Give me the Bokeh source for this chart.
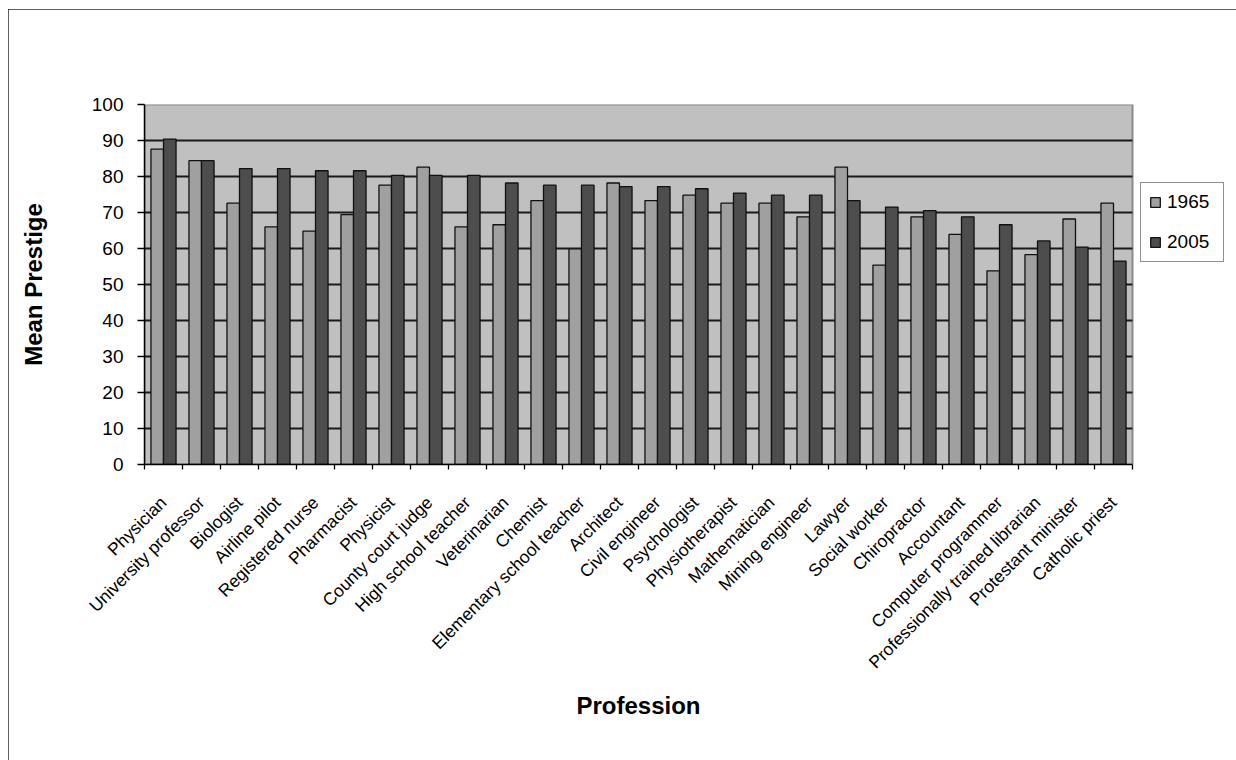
import math
from bokeh.plotting import figure
from bokeh.models import ColumnDataSource, Range1d, FixedTicker, Legend, LegendItem, Title
from bokeh.transform import dodge
from bokeh.embed import file_html
from bokeh.resources import INLINE

professions = [
    "Physician", "University professor", "Biologist", "Airline pilot",
    "Registered nurse", "Pharmacist", "Physicist", "County court judge",
    "High school teacher", "Veterinarian", "Chemist", "Elementary school teacher",
    "Architect", "Civil engineer", "Psychologist", "Physiotherapist",
    "Mathematician", "Mining engineer", "Lawyer", "Social worker",
    "Chiropractor", "Accountant", "Computer programmer",
    "Professionally trained librarian", "Protestant minister", "Catholic priest",
]
prestige_1965 = [87.6, 84.4, 72.6, 66.0, 64.8, 69.4, 77.6, 82.6, 66.0, 66.6,
                 73.3, 59.9, 78.2, 73.3, 74.8, 72.6, 72.6, 68.8, 82.6, 55.4,
                 68.8, 63.9, 53.8, 58.3, 68.2, 72.6]
prestige_2005 = [90.4, 84.4, 82.2, 82.2, 81.6, 81.6, 80.3, 80.3, 80.3, 78.2,
                 77.6, 77.6, 77.2, 77.2, 76.6, 75.4, 74.8, 74.8, 73.3, 71.5,
                 70.5, 68.8, 66.6, 62.1, 60.4, 56.5]
years = ["1965", "2005"]
y_ticks = list(range(0, 101, 10))

FONT = "Liberation Sans"
n = len(professions)
pos = list(range(1, n + 1))
src = ColumnDataSource(dict(pos=pos, p1965=prestige_1965, p2005=prestige_2005, prof=professions))

# layout geometry (pixels)
FIG_W, FIG_H = 1228, 751
B_LEFT, B_TOP, B_RIGHT, B_BOTTOM = 136, 95, 4, 296
PLOT_W = 988                      # width of the grey plot area
frame_w = FIG_W - B_LEFT - B_RIGHT
x_start = 0.5
x_end = x_start + n * frame_w / PLOT_W

p = figure(width=FIG_W, height=FIG_H, x_range=Range1d(x_start, x_end), y_range=Range1d(0, 100),
           output_backend="svg", toolbar_location=None, title=None,
           min_border_left=B_LEFT, min_border_top=B_TOP, min_border_right=B_RIGHT,
           min_border_bottom=B_BOTTOM,
           background_fill_color="white", border_fill_color="white",
           outline_line_color=None)
p.margin = (9, 0, 0, 8)
p.styles = {"outline": "2px solid #2a2a2a", "outline-offset": "-2px"}
p.xgrid.visible = False
p.ygrid.visible = False

# grey plot area
p.quad(left=[x_start], right=[n + 0.5], bottom=[y_ticks[0]], top=[y_ticks[-1]],
       fill_color="#c0c0c0", line_color="#8a8a8a", line_width=2)
# horizontal gridlines
grid_y = y_ticks[1:-1]
p.segment(x0=[x_start] * len(grid_y), x1=[n + 0.5] * len(grid_y), y0=grid_y, y1=grid_y,
          line_color="#1a1a1a", line_width=1.8)

bw = 0.33
r1 = p.vbar(x=dodge("pos", -bw / 2, range=p.x_range), top="p1965", width=bw, source=src,
            fill_color="#a0a0a0", line_color="#111111", line_width=1.3)
r2 = p.vbar(x=dodge("pos", bw / 2, range=p.x_range), top="p2005", width=bw, source=src,
            fill_color="#4d4d4d", line_color="#111111", line_width=1.3)

# y axis
yax = p.yaxis[0]
yax.ticker = FixedTicker(ticks=y_ticks)
yax.axis_line_color = "black"
yax.axis_line_width = 1.5
yax.major_tick_out = 7
yax.major_tick_in = 0
yax.major_tick_line_color = "black"
yax.major_tick_line_width = 1.5
yax.minor_tick_line_color = None
yax.major_label_text_font = FONT
yax.major_label_text_font_size = "19px"
yax.major_label_text_color = "black"
yax.major_label_standoff = 14
yax.axis_label = "Mean Prestige"
yax.axis_label_text_font = FONT
yax.axis_label_text_font_style = "bold"
yax.axis_label_text_font_size = "24px"
yax.axis_label_text_color = "black"
yax.axis_label_standoff = 42

# x axis
xax = p.xaxis[0]
xax.bounds = (x_start, n + 0.5)
xax.ticker = FixedTicker(ticks=pos, minor_ticks=[i + 0.5 for i in range(n + 1)])
xax.major_label_overrides = {i: name for i, name in zip(pos, professions)}
xax.major_label_orientation = math.pi / 4
xax.major_tick_line_color = None
xax.major_tick_out = 0
xax.major_tick_in = 0
xax.minor_tick_out = 5
xax.minor_tick_in = 0
xax.minor_tick_line_color = "black"
xax.minor_tick_line_width = 1.3
xax.axis_line_color = "black"
xax.axis_line_width = 1.5
xax.major_label_text_font = FONT
xax.major_label_text_font_size = "17.5px"
xax.major_label_text_color = "black"
xax.major_label_standoff = 30

# x-axis title, centred under the grey plot area (not the wider frame)
x_title = Title(text="Profession", align="left", offset=432, standoff=15,
                text_font=FONT, text_font_size="24px", text_font_style="bold",
                text_color="black")
p.add_layout(x_title, "below")

legend = Legend(items=[LegendItem(label=years[0], renderers=[r1]),
                       LegendItem(label=years[1], renderers=[r2])],
                location=(996, 202))
legend.border_line_color = "#222222"
legend.border_line_width = 1.5
legend.background_fill_color = "white"
legend.background_fill_alpha = 1.0
legend.padding = 8
legend.spacing = 18
legend.margin = 0
legend.glyph_width = 12
legend.glyph_height = 12
legend.label_height = 20
legend.label_width = 48
legend.label_standoff = 6
legend.label_text_font = FONT
legend.label_text_font_size = "19px"
legend.label_text_color = "black"
p.add_layout(legend)

open("out.html", "w").write(file_html(p, INLINE))
